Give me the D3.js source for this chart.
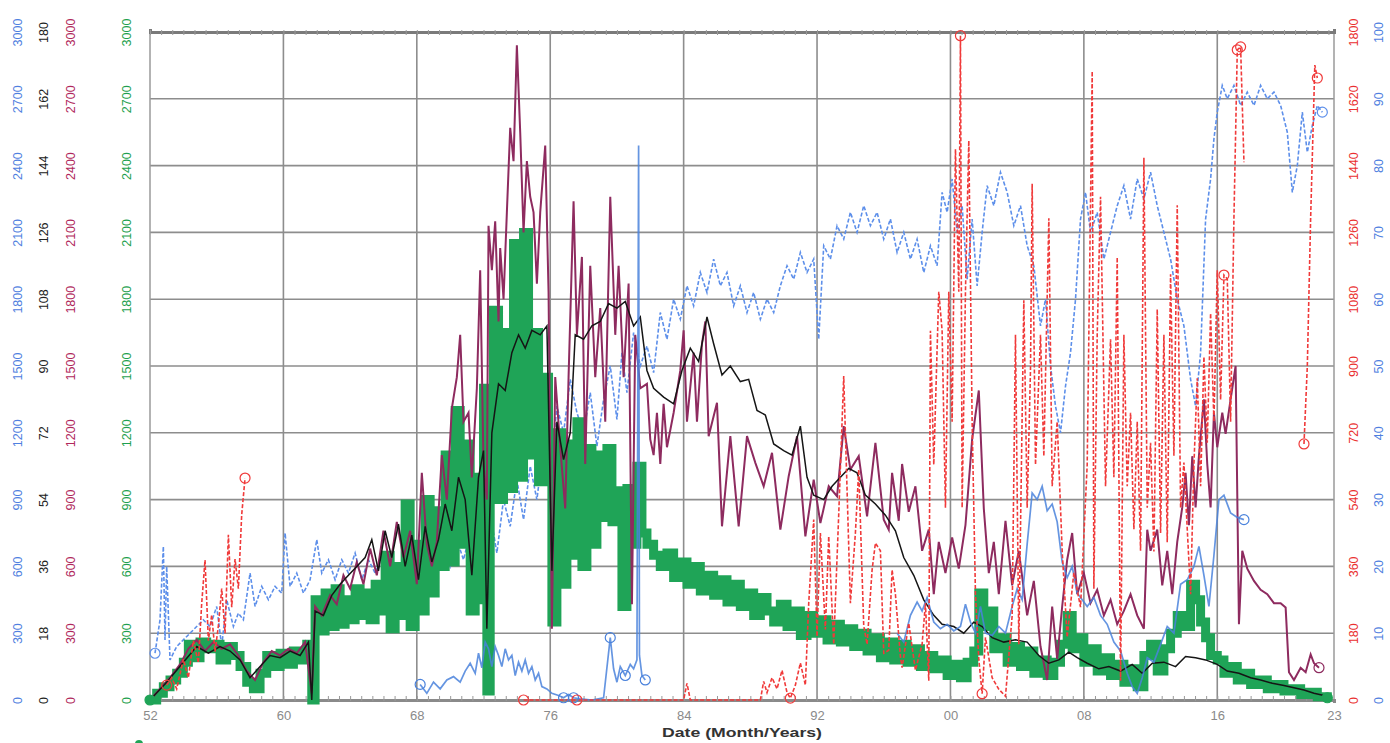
<!DOCTYPE html>
<html><head><meta charset="utf-8">
<script src="https://cdn.jsdelivr.net/npm/d3@7"></script>
<style>body{margin:0;background:#fff}svg{display:block;font-family:"Liberation Sans",Arial,sans-serif}</style>
</head><body>
<svg id="c" width="1390" height="743"></svg>
<script>
// ---------- axis ticks ----------
const xTicks = [1952,1960,1968,1976,1984,1992,2000,2008,2016,2023];
const xGrid = [1960,1968,1976,1984,1992,2000,2008,2016];
const leftTicks3000 = [0,300,600,900,1200,1500,1800,2100,2400,2700,3000];
const blackTicks = [0,18,36,54,72,90,108,126,144,162,180];
const redTicks = [0,180,360,540,720,900,1080,1260,1440,1620,1800];
const blueRTicks = [0,10,20,30,40,50,60,70,80,90,100];

// ---------- series (year, value) ----------
const greenData = [[1952.0,0],[1952.4,30],[1952.8,60],[1953.2,90],[1953.6,120],[1954.0,170],[1954.3,250],[1954.6,190],[1955.0,260],[1955.4,230],[1955.8,250],[1956.2,180],[1956.6,240],[1957.0,200],[1957.4,150],[1957.8,80],[1958.2,50],[1958.6,120],[1959.0,200],[1959.4,150],[1959.8,210],[1960.2,160],[1960.6,220],[1961.0,180],[1961.4,250],[1961.7,0],[1961.9,450],[1962.2,310],[1962.5,480],[1962.8,330],[1963.1,500],[1963.4,340],[1963.7,450],[1964.0,360],[1964.3,500],[1964.6,380],[1964.9,480],[1965.2,360],[1965.5,520],[1965.8,400],[1966.1,650],[1966.4,320],[1966.7,600],[1967.0,380],[1967.3,880],[1967.6,330],[1967.9,700],[1968.2,400],[1968.5,900],[1968.8,480],[1969.1,850],[1969.4,600],[1969.7,1100],[1970.0,620],[1970.3,1300],[1970.6,700],[1970.9,1150],[1971.2,400],[1971.5,1000],[1971.8,450],[1972.0,1400],[1972.2,40],[1972.4,1200],[1972.6,1750],[1972.9,900],[1973.2,1650],[1973.5,950],[1973.8,2050],[1974.1,1000],[1974.4,2100],[1974.7,1100],[1975.0,1650],[1975.3,980],[1975.6,1450],[1975.9,1000],[1976.1,350],[1976.4,1200],[1976.7,520],[1977.0,1150],[1977.3,650],[1977.6,1250],[1977.9,600],[1978.2,1130],[1978.5,700],[1978.8,1100],[1979.1,820],[1979.4,1130],[1979.7,800],[1980.0,940],[1980.3,420],[1980.6,950],[1980.9,700],[1981.2,1050],[1981.5,750],[1981.8,700],[1982.2,650],[1982.6,600],[1983.0,660],[1983.4,550],[1983.8,620],[1984.2,520],[1984.6,600],[1985.0,490],[1985.4,560],[1985.8,470],[1986.2,540],[1986.6,440],[1987.0,520],[1987.4,420],[1987.8,480],[1988.2,380],[1988.6,460],[1989.0,400],[1989.4,350],[1989.8,430],[1990.2,330],[1990.6,400],[1991.0,290],[1991.4,380],[1991.8,300],[1992.2,360],[1992.6,270],[1993.0,340],[1993.4,260],[1993.8,320],[1994.2,240],[1994.6,300],[1995.0,220],[1995.4,280],[1995.8,190],[1996.2,260],[1996.6,180],[1997.0,250],[1997.4,170],[1997.8,230],[1998.2,150],[1998.6,200],[1999.0,140],[1999.4,180],[1999.8,110],[2000.2,160],[2000.6,100],[2001.0,170],[2001.4,220],[2001.7,480],[2002.0,330],[2002.3,400],[2002.6,230],[2003.0,280],[2003.4,170],[2003.8,240],[2004.2,150],[2004.6,220],[2005.0,120],[2005.4,180],[2005.8,110],[2006.2,170],[2006.6,250],[2007.0,380],[2007.3,230],[2007.6,280],[2008.0,170],[2008.4,230],[2008.8,130],[2009.2,190],[2009.6,110],[2010.0,160],[2010.4,80],[2010.8,140],[2011.2,60],[2011.6,200],[2012.0,250],[2012.4,130],[2012.8,230],[2013.2,300],[2013.6,380],[2014.0,330],[2014.4,520],[2014.7,450],[2015.0,350],[2015.3,280],[2015.6,200],[2016.0,180],[2016.4,120],[2016.8,150],[2017.2,90],[2017.6,120],[2018.0,70],[2018.5,90],[2019.0,50],[2019.5,70],[2020.0,40],[2020.5,50],[2021.0,25],[2021.5,35],[2022.0,15],[2022.6,10]];

const blackData = [[1952.0,0],[1953.0,4.8],[1954.0,10.2],[1954.8,14.4],[1955.5,12.6],[1956.2,14.4],[1956.8,13.2],[1957.4,10.8],[1958.0,6],[1958.6,9],[1959.2,12],[1959.8,11.4],[1960.4,13.2],[1961.0,12],[1961.5,15.6],[1961.7,0],[1961.9,24],[1962.4,22.8],[1962.9,28.2],[1963.4,31.2],[1963.9,33.6],[1964.4,36],[1964.9,38.4],[1965.3,43.2],[1965.7,34.8],[1966.1,45.6],[1966.5,38.4],[1966.9,47.4],[1967.3,36],[1967.7,44.4],[1968.1,32.4],[1968.5,46.8],[1968.9,37.2],[1969.3,43.2],[1969.7,52.8],[1970.1,45.6],[1970.5,60],[1970.9,54],[1971.3,33.6],[1971.7,60],[1972.0,67.2],[1972.2,19.2],[1972.5,72],[1972.9,85.2],[1973.3,83.4],[1973.7,93.6],[1974.1,98.4],[1974.5,94.8],[1974.9,99.6],[1975.4,98.4],[1975.8,100.8],[1976.1,34.8],[1976.4,75],[1976.8,64.8],[1977.2,72],[1977.5,98.4],[1978.0,97.2],[1978.5,100.8],[1979.0,102],[1979.5,106.8],[1980.0,105.6],[1980.5,107.4],[1981.0,100.8],[1981.4,103.2],[1981.8,88.8],[1982.2,84],[1982.8,81.6],[1983.4,79.8],[1983.9,88.8],[1984.4,94.8],[1984.9,91.2],[1985.4,103.2],[1985.8,96],[1986.3,87.6],[1986.8,90],[1987.4,85.8],[1987.9,86.4],[1988.4,78],[1988.9,76.8],[1989.4,69],[1990.0,67.2],[1990.5,66],[1991.0,73.8],[1991.4,60],[1991.8,55.2],[1992.4,54],[1992.9,57.6],[1993.4,60],[1993.9,62.4],[1994.4,61.2],[1994.9,55.2],[1995.5,52.8],[1996.1,49.8],[1996.7,45.6],[1997.2,38.4],[1997.8,33.6],[1998.4,27],[1999.0,22.8],[1999.5,20.4],[2000.2,19.8],[2000.8,18],[2001.4,21],[2001.9,19.8],[2002.5,16.8],[2003.2,15.6],[2003.9,16.2],[2004.6,15.6],[2005.3,12],[2005.9,9.9],[2006.5,10.8],[2007.1,12.9],[2007.6,11.4],[2008.2,9.9],[2008.9,8.4],[2009.5,9],[2010.2,7.8],[2010.9,9.6],[2011.5,7.2],[2012.1,9.9],[2012.8,10.2],[2013.5,9],[2014.1,11.7],[2014.7,11.4],[2015.3,10.8],[2016.0,9.6],[2016.6,7.8],[2017.3,7.2],[2018.0,6],[2018.6,5.4],[2019.3,4.5],[2020.0,3.9],[2020.6,3.3],[2021.2,2.7],[2021.8,1.8],[2022.4,1.2],[2022.8,0.9]];

const maroonData = [[1952.0,0],[1952.6,50],[1953.2,100],[1953.8,160],[1954.3,230],[1954.8,270],[1955.3,220],[1955.8,260],[1956.3,230],[1956.8,250],[1957.3,200],[1957.8,130],[1958.3,90],[1958.8,170],[1959.3,220],[1959.8,200],[1960.3,230],[1960.8,210],[1961.3,260],[1961.7,30],[1961.9,420],[1962.3,380],[1962.8,470],[1963.2,430],[1963.6,560],[1964.0,500],[1964.4,620],[1964.8,520],[1965.2,680],[1965.6,560],[1966.0,760],[1966.4,600],[1966.8,800],[1967.2,640],[1967.6,760],[1968.0,520],[1968.3,1020],[1968.6,700],[1968.9,600],[1969.2,710],[1969.5,1100],[1969.8,900],[1970.1,1310],[1970.4,1450],[1970.6,1640],[1970.8,1250],[1971.1,1290],[1971.3,1000],[1971.6,1400],[1971.8,1930],[1972.0,1060],[1972.2,900],[1972.3,2130],[1972.5,1930],[1972.7,2150],[1972.9,1700],[1973.0,2030],[1973.2,1800],[1973.4,2190],[1973.6,2570],[1973.8,2420],[1974.0,2940],[1974.2,2550],[1974.4,2100],[1974.6,2420],[1974.8,2260],[1975.0,2190],[1975.2,1870],[1975.4,2190],[1975.7,2490],[1975.9,1830],[1976.1,320],[1976.3,1450],[1976.6,1135],[1976.9,860],[1977.1,1450],[1977.4,2240],[1977.6,1640],[1977.9,1990],[1978.1,1060],[1978.4,1950],[1978.7,1450],[1979.0,1760],[1979.3,1250],[1979.6,2260],[1979.9,1640],[1980.1,1950],[1980.4,1450],[1980.7,1870],[1980.9,430],[1981.1,1640],[1981.4,1400],[1981.8,1420],[1982.0,1170],[1982.2,1100],[1982.4,1290],[1982.6,1060],[1982.8,1330],[1983.0,1135],[1983.4,1290],[1983.8,1480],[1984.0,1660],[1984.2,1250],[1984.6,1560],[1984.8,1250],[1985.1,1600],[1985.3,1700],[1985.5,1185],[1986.0,1335],[1986.3,780],[1986.8,1185],[1987.3,780],[1987.8,1185],[1988.3,1065],[1988.8,960],[1989.3,1110],[1989.8,765],[1990.3,1005],[1990.8,1185],[1991.3,735],[1991.8,990],[1992.2,795],[1992.7,960],[1993.2,915],[1993.6,1230],[1994.0,1035],[1994.5,1095],[1995.0,825],[1995.5,1155],[1996.0,810],[1996.3,765],[1996.5,1020],[1996.9,805],[1997.1,1060],[1997.5,845],[1997.9,960],[1998.3,670],[1998.7,765],[1999.0,475],[1999.3,710],[1999.7,570],[2000.1,730],[2000.5,590],[2000.9,785],[2001.3,1170],[2001.7,1390],[2002.0,860],[2002.3,570],[2002.6,710],[2002.9,475],[2003.3,805],[2003.7,515],[2004.1,670],[2004.6,380],[2005.0,535],[2005.4,240],[2005.8,90],[2006.1,420],[2006.4,185],[2006.7,420],[2007.0,630],[2007.3,750],[2007.6,475],[2008.0,570],[2008.4,435],[2008.8,495],[2009.2,380],[2009.6,450],[2010.0,340],[2010.4,400],[2010.8,475],[2011.2,380],[2011.6,320],[2011.8,765],[2012.0,670],[2012.4,765],[2012.7,515],[2013.0,670],[2013.3,475],[2013.6,710],[2013.9,865],[2014.1,1020],[2014.3,785],[2014.5,1095],[2014.7,865],[2014.9,1095],[2015.2,1350],[2015.4,1060],[2015.6,865],[2015.8,1290],[2016.0,1135],[2016.3,1290],[2016.5,1195],[2016.8,1350],[2017.1,1500],[2017.3,340],[2017.5,670],[2017.8,590],[2018.2,535],[2018.6,495],[2019.0,475],[2019.4,435],[2019.8,435],[2020.1,415],[2020.3,125],[2020.6,90],[2021.0,145],[2021.3,125],[2021.6,205],[2021.8,165],[2022.1,145]];

const blueDashData = [[1952.3,7],[1952.6,12],[1952.8,23],[1952.9,9],[1953.0,20],[1953.2,6],[1953.6,8],[1954.0,9],[1954.4,10],[1954.8,11],[1955.2,12],[1955.6,11],[1956.0,14],[1956.3,8],[1956.6,15],[1957.0,11],[1957.3,13],[1957.6,12],[1958.0,19],[1958.3,14],[1958.7,17],[1959.1,15],[1959.5,17],[1959.9,16],[1960.1,25],[1960.4,17],[1960.8,19],[1961.2,16],[1961.6,18],[1962.0,24],[1962.3,19],[1962.7,21],[1963.1,18],[1963.5,21],[1963.9,19],[1964.3,22],[1964.7,18],[1965.1,21],[1965.5,19],[1966.0,22],[1966.5,18],[1967.0,20],[1967.5,17],[1968.0,21],[1968.4,18],[1968.8,22],[1969.2,19],[1969.6,23],[1970.0,20],[1970.4,24],[1970.8,21],[1971.2,25],[1971.6,19],[1972.0,17],[1972.4,28],[1972.8,22],[1973.2,30],[1973.6,26],[1974.0,33],[1974.4,27],[1974.8,35],[1975.2,30],[1975.6,38],[1976.0,33],[1976.4,44],[1976.8,40],[1977.2,48],[1977.6,43],[1978.0,40],[1978.4,46],[1978.8,38],[1979.2,45],[1979.6,50],[1980.0,42],[1980.3,52],[1980.6,46],[1981.0,55],[1981.4,50],[1981.8,53],[1982.2,49],[1982.6,58],[1983.0,54],[1983.4,60],[1983.8,57],[1984.2,62],[1984.6,59],[1985.0,64],[1985.4,61],[1985.8,66],[1986.2,62],[1986.6,64],[1987.0,59],[1987.4,62],[1987.8,58],[1988.2,61],[1988.6,57],[1989.0,60],[1989.4,58],[1989.8,62],[1990.2,65],[1990.6,63],[1991.0,67],[1991.4,64],[1991.8,66],[1992.1,54],[1992.4,68],[1992.8,66],[1993.2,71],[1993.6,69],[1994.0,73],[1994.4,70],[1994.8,74],[1995.2,71],[1995.6,73],[1996.0,69],[1996.4,72],[1996.8,67],[1997.2,70],[1997.6,66],[1998.0,69],[1998.4,64],[1998.8,68],[1999.2,65],[1999.5,76],[1999.8,73],[2000.1,78],[2000.4,70],[2000.7,74],[2001.0,63],[2001.3,72],[2001.6,62],[2001.9,70],[2002.2,77],[2002.6,74],[2003.0,79],[2003.4,76],[2003.8,71],[2004.2,74],[2004.6,68],[2005.0,65],[2005.4,56],[2005.7,60],[2006.0,50],[2006.3,44],[2006.6,40],[2006.9,47],[2007.2,52],[2007.5,60],[2007.8,72],[2008.1,76],[2008.4,70],[2008.8,73],[2009.2,66],[2009.6,70],[2010.0,74],[2010.4,77],[2010.8,72],[2011.2,78],[2011.6,75],[2012.0,79],[2012.4,74],[2012.8,70],[2013.2,66],[2013.6,60],[2014.0,56],[2014.4,48],[2014.7,44],[2015.0,52],[2015.3,72],[2015.6,78],[2015.8,84],[2016.0,88],[2016.3,92],[2016.6,90],[2017.0,92],[2017.4,89],[2017.8,91],[2018.2,89],[2018.6,92],[2019.0,90],[2019.4,91],[2019.8,89],[2020.2,85],[2020.5,76],[2020.8,80],[2021.1,88],[2021.4,82],[2021.7,86],[2022.0,89],[2022.3,88]];

const blueSolidData = [[1968.2,70],[1968.6,30],[1969.0,80],[1969.4,50],[1969.8,90],[1970.2,105],[1970.6,80],[1970.9,130],[1971.2,165],[1971.5,120],[1971.7,210],[1971.9,145],[1972.1,260],[1972.3,230],[1972.5,150],[1972.7,240],[1972.9,200],[1973.1,150],[1973.3,230],[1973.5,180],[1973.7,200],[1973.9,110],[1974.1,170],[1974.3,130],[1974.5,180],[1974.7,120],[1974.9,150],[1975.1,90],[1975.3,120],[1975.5,60],[1975.8,50],[1976.1,30],[1976.5,20],[1976.8,10],[1977.1,25],[1977.4,10],[1977.8,5],[1978.5,0],[1979.2,10],[1979.6,280],[1979.8,140],[1980.0,80],[1980.2,150],[1980.5,110],[1980.8,160],[1981.0,140],[1981.2,180],[1981.3,2490],[1981.35,200],[1981.5,110],[1981.7,90],[1981.8,null],[1996.8,300],[1997.2,260],[1997.6,380],[1998.0,440],[1998.3,400],[1998.6,460],[1999.0,350],[1999.4,320],[1999.8,340],[2000.2,310],[2000.6,330],[2000.9,430],[2001.2,350],[2001.5,300],[2001.8,420],[2002.1,300],[2002.5,290],[2002.9,330],[2003.3,300],[2003.7,420],[2004.0,500],[2004.3,450],[2004.6,700],[2004.9,930],[2005.2,900],[2005.5,960],[2005.8,850],[2006.1,880],[2006.4,800],[2006.7,620],[2007.0,550],[2007.3,600],[2007.6,480],[2007.9,450],[2008.2,420],[2008.6,460],[2009.0,380],[2009.4,340],[2009.8,260],[2010.2,220],[2010.6,120],[2010.9,60],[2011.2,30],[2011.5,100],[2011.8,190],[2012.2,170],[2012.6,250],[2013.0,330],[2013.4,300],[2013.8,520],[2014.2,540],[2014.6,600],[2014.9,690],[2015.2,560],[2015.5,420],[2015.8,650],[2016.1,900],[2016.4,920],[2016.8,840],[2017.2,820],[2017.6,810]];

const redData = [[1953.0,40],[1953.3,60],[1953.6,30],[1954.0,110],[1954.3,60],[1954.6,160],[1954.9,100],[1955.1,260],[1955.3,377],[1955.5,160],[1955.7,230],[1955.9,130],[1956.1,200],[1956.3,300],[1956.5,180],[1956.7,445],[1956.9,250],[1957.1,380],[1957.3,300],[1957.5,500],[1957.7,598],[1957.8,null],[1974.4,0],[1977.6,0],[1984.0,0],[1984.2,45],[1984.4,0],[1988.6,0],[1988.8,50],[1989.0,20],[1989.3,60],[1989.6,30],[1989.9,80],[1990.2,20],[1990.4,5],[1990.7,40],[1991.0,100],[1991.3,40],[1991.5,260],[1991.8,486],[1992.0,171],[1992.2,450],[1992.5,190],[1992.7,441],[1993.0,150],[1993.3,500],[1993.6,873],[1994.0,261],[1994.3,450],[1994.5,621],[1994.8,200],[1995.0,150],[1995.3,350],[1995.5,423],[1995.8,402],[1996.0,126],[1996.3,134],[1996.5,351],[1996.7,285],[1997.0,117],[1997.1,87],[1997.5,207],[1997.9,80],[1998.3,150],[1998.5,261],[1998.7,52],[1998.8,995],[1999.0,634],[1999.3,1100],[1999.5,995],[1999.7,518],[1999.9,1100],[2000.1,750],[2000.3,1484],[2000.5,1100],[2000.6,1790],[2000.7,518],[2000.9,1100],[2001.1,1507],[2001.3,750],[2001.5,285],[2001.7,110],[2001.9,17],[2002.1,169],[2002.5,60],[2002.9,29],[2003.3,10],[2003.7,227],[2003.9,984],[2004.1,150],[2004.4,1077],[2004.6,518],[2004.8,890],[2004.9,1391],[2005.1,634],[2005.4,984],[2005.6,657],[2005.9,1298],[2006.1,576],[2006.4,750],[2006.7,402],[2007.0,169],[2007.4,343],[2007.8,250],[2008.2,634],[2008.5,1694],[2008.6,300],[2008.8,984],[2009.0,1356],[2009.3,576],[2009.6,972],[2009.8,600],[2010.0,1193],[2010.2,52],[2010.4,984],[2010.6,576],[2010.8,774],[2011.0,460],[2011.2,750],[2011.4,402],[2011.6,1461],[2011.8,518],[2012.0,693],[2012.2,400],[2012.4,1053],[2012.6,450],[2012.8,984],[2013.0,425],[2013.2,1147],[2013.4,658],[2013.6,1333],[2013.8,518],[2014.0,640],[2014.2,460],[2014.4,285],[2014.6,634],[2014.8,867],[2015.0,576],[2015.2,925],[2015.4,693],[2015.6,1042],[2015.8,750],[2016.0,1158],[2016.2,809],[2016.4,1145],[2016.6,1135],[2016.8,750],[2017.0,1300],[2017.2,1752],[2017.4,1760],[2017.6,1449],[2017.7,null],[2021.2,690],[2021.4,900],[2021.6,1300],[2021.85,1711],[2022.0,1676]];

const redMarks = [[1953.0,40],[1957.7,598],[1974.4,0],[1977.6,0],[1990.4,5],[2000.6,1790],[2001.9,17],[2016.4,1145],[2017.2,1752],[2017.4,1760],[2021.2,690],[2022.0,1676]];
const blueDashMarks = [[1952.3,7],[2022.3,88]];
const blueSolidMarks = [[1968.2,70],[1976.8,10],[1977.4,10],[1979.6,280],[1980.5,110],[1981.7,90],[2017.6,810]];
const maroonMarks = [[2022.1,145]];
const greenMarks = [[1952.0,0],[2022.6,10]];

// ---------- layout ----------
const L=150,R=1334,T=32,B=700;
const svg = d3.select('#c');
const x = d3.scaleLinear().domain([1952,2023]).range([L,R]);
const yGreen = d3.scaleLinear().domain([0,3000]).range([B,T]);
const yMaroon = d3.scaleLinear().domain([0,3000]).range([B,T]);
const yBlueL = d3.scaleLinear().domain([0,3000]).range([B,T]);
const yBlack = d3.scaleLinear().domain([0,180]).range([B,T]);
const yRed = d3.scaleLinear().domain([0,1800]).range([B,T]);
const yBlueR = d3.scaleLinear().domain([0,100]).range([B,T]);

const C = {green:'#1fa457', maroon:'#8e2b5f', black:'#151515', blueDash:'#5d8fea', blueSolid:'#4a82dc', red:'#f03a3a',
  lblBlue:'#4f80e0', lblBlack:'#222', lblMaroon:'#b0285c', lblGreen:'#1e9f4e', lblRed:'#ea3030', grid:'#8d8d8d'};

// grid
const g = svg.append('g');
g.selectAll('.hg').data(leftTicks3000.filter(v=>v>0&&v<3000)).join('line')
  .attr('x1',L).attr('x2',R).attr('y1',d=>yGreen(d)).attr('y2',d=>yGreen(d))
  .attr('stroke',C.grid).attr('stroke-width',1.6);
g.selectAll('.vg').data(xGrid).join('line')
  .attr('x1',d=>x(d)).attr('x2',d=>x(d)).attr('y1',T).attr('y2',B)
  .attr('stroke',C.grid).attr('stroke-width',1.6);
g.append('line').attr('x1',L).attr('x2',L).attr('y1',T).attr('y2',B).attr('stroke','#9a9a9a').attr('stroke-width',1.5);
g.append('line').attr('x1',R).attr('x2',R).attr('y1',T).attr('y2',B).attr('stroke','#9a9a9a').attr('stroke-width',1.5);

// top & bottom axes with minor ticks
const minor = d3.range(0,107).map(i=>1952+i*2/3).filter(v=>v<=2023);
const topAx = d3.axisTop(x).tickValues(minor).tickSize(3).tickFormat('');
const botAx = d3.axisBottom(x).tickValues(minor).tickSize(3).tickFormat('');
const ta = svg.append('g').attr('transform',`translate(0,${T})`).call(topAx);
ta.select('.domain').attr('stroke','#7a7a7a').attr('stroke-width',3);
ta.selectAll('.tick line').attr('stroke','#999').attr('stroke-width',1).attr('y2',3).attr('y1',-2);
const ba = svg.append('g').attr('transform',`translate(0,${B})`).call(botAx);
ba.select('.domain').attr('stroke','#8a8a8a').attr('stroke-width',3);
ba.selectAll('.tick line').attr('stroke','#999').attr('stroke-width',1).attr('y1',-4).attr('y2',1);

// ---------- lines ----------
function mkLine(ys, curve){
  const l = d3.line().defined(d=>d[1]!=null).x(d=>x(d[0])).y(d=>ys(d[1]));
  if(curve) l.curve(curve);
  return l;
}
const plot = svg.append('g').attr('fill','none');
plot.append('path').datum(blueDashData).attr('d',mkLine(yBlueR))
  .attr('stroke',C.blueDash).attr('stroke-width',1.6).attr('stroke-dasharray','4,2');
plot.append('path').datum(greenData).attr('d',mkLine(yGreen,d3.curveStepAfter))
  .attr('stroke',C.green).attr('stroke-width',9).attr('stroke-linejoin','miter');
plot.append('path').datum(maroonData).attr('d',mkLine(yMaroon))
  .attr('stroke',C.maroon).attr('stroke-width',2);
plot.append('path').datum(blackData).attr('d',mkLine(yBlack))
  .attr('stroke',C.black).attr('stroke-width',1.5);
plot.append('path').datum(blueSolidData).attr('d',mkLine(yBlueL))
  .attr('stroke',C.blueSolid).attr('stroke-width',1.7).attr('stroke-opacity',0.85);
plot.append('path').datum(redData).attr('d',mkLine(yRed))
  .attr('stroke',C.red).attr('stroke-width',1.6).attr('stroke-dasharray','4,2');

function marks(data, ys, col, fill){
  plot.append('g').selectAll('circle').data(data).join('circle')
    .attr('cx',d=>x(d[0])).attr('cy',d=>ys(d[1])).attr('r',5)
    .attr('fill',fill?col:'none').attr('stroke',col).attr('stroke-width',1.2);
}
marks(blueDashMarks,yBlueR,C.blueDash,false);
marks(blueSolidMarks,yBlueL,C.blueSolid,false);
marks(redMarks,yRed,C.red,false);
marks(maroonMarks,yMaroon,C.maroon,false);
marks(greenMarks,yGreen,C.green,true);

// ---------- vertical axes (rotated labels) ----------
function vAxis(scale, vals, cx, col){
  const a = d3.axisLeft(scale).tickValues(vals).tickSize(0).tickPadding(0).tickFormat(d3.format('d'));
  const gg = svg.append('g').attr('transform',`translate(${cx+4.5},0)`).call(a);
  gg.select('.domain').remove();
  gg.selectAll('text').attr('x',0).attr('dy',0).attr('text-anchor','middle')
    .attr('transform','rotate(-90)').attr('fill',col)
    .style('font-size','12.5px').style('font-family','"Liberation Sans",Arial,sans-serif');
}
vAxis(yBlueL, leftTicks3000, 17, C.lblBlue);
vAxis(yBlack, blackTicks, 43, C.lblBlack);
vAxis(yMaroon, leftTicks3000, 70, C.lblMaroon);
vAxis(yGreen, leftTicks3000, 126, C.lblGreen);
vAxis(yRed, redTicks, 1353, C.lblRed);
vAxis(yBlueR, blueRTicks, 1378, C.lblBlue);

// x labels
const xa = svg.append('g').attr('transform',`translate(0,${B})`)
  .call(d3.axisBottom(x).tickValues(xTicks).tickSize(0).tickPadding(11).tickFormat(d=>String(d%100).padStart(2,'0')));
xa.select('.domain').remove();
xa.selectAll('text').attr('fill','#8a8a8a').style('font-size','13px').style('font-family','"Liberation Sans",Arial,sans-serif');

svg.append('text').attr('x',742).attr('y',737).attr('text-anchor','middle')
  .attr('fill','#333').style('font-size','12.5px').style('font-weight','bold')
  .attr('textLength',160).attr('lengthAdjust','spacingAndGlyphs')
  .text('Date (Month/Years)');

svg.append('circle').attr('cx',139).attr('cy',744).attr('r',4).attr('fill',C.green);
</script>
</body></html>
